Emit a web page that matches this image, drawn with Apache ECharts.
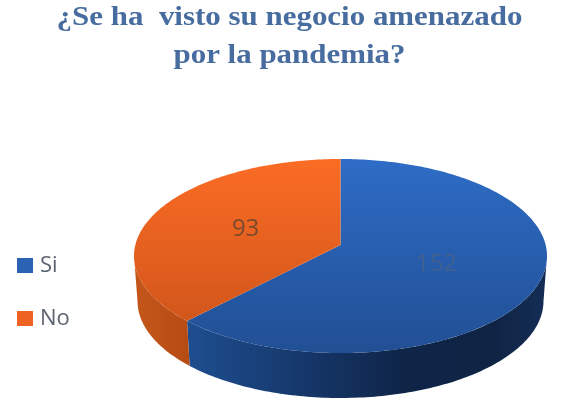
<!DOCTYPE html>
<html><head><meta charset="utf-8">
<style>html,body{margin:0;padding:0;background:#fff}#c{width:573px;height:400px;filter:blur(0.5px)}</style>
<script src="https://cdn.jsdelivr.net/npm/echarts@6/dist/echarts.min.js"></script>
</head><body><div id="c"></div>
<script>
const titleText = '¿Se ha  visto su negocio amenazado\npor la pandemia?';
const categories = ['Si', 'No'];
const values = [152, 93];
const legendColors = ['#2a62b4', '#ee6322'];

const G = echarts.graphic;
const total = values.reduce((a, b) => a + b, 0);
const topFace = {cx: 340.5, cy: 256, rx: 206.5, ry: 97};
const bottomFace = {cx: 340.5, cy: 301, rx: 203, ry: 97};
const persp = -0.113;
const fills = [
  new G.LinearGradient(0, 0, 0, 1, [{offset: 0, color: '#2e6cc6'}, {offset: 1, color: '#214f94'}]),
  new G.LinearGradient(0, 0, 0, 1, [{offset: 0, color: '#fb6c24'}, {offset: 1, color: '#d2561b'}])
];
const walls = [
  new G.LinearGradient(0, 0, 1, 0, [
    {offset: 0, color: '#1e4e90'}, {offset: 0.3, color: '#16396d'},
    {offset: 0.6, color: '#0f2548'}, {offset: 0.85, color: '#0f2444'}, {offset: 1, color: '#152d56'}]),
  new G.LinearGradient(0, 0, 1, 0, [{offset: 0, color: '#c4561a'}, {offset: 1, color: '#b54c14'}])
];
const labelColors = ['#40618f', '#7a4a2e'];

function project(deg, r, e) {
  const a = deg * Math.PI / 180, u = r * Math.sin(a), v = -r * Math.cos(a);
  const d = 1 + persp * v;
  return [e.cx + e.rx * u * Math.sqrt(1 - persp * persp) / d, e.cy + e.ry * (v + persp) / d];
}
function startOf(i) { return values.slice(0, i).reduce((a, b) => a + b, 0) / total * 360; }
function arc(from, to, e) {
  const n = Math.max(2, Math.ceil(Math.abs(to - from))), pts = [];
  for (let k = 0; k <= n; k++) pts.push(project(from + (to - from) * k / n, 1, e));
  return pts;
}
const visFrom = Math.acos(persp) * 180 / Math.PI, visTo = 360 - visFrom;

function renderSlice(i) {
  return function (params, api) {
    const s = startOf(i), e = s + api.value(0) / total * 360, children = [];
    const a = Math.max(s, visFrom), b = Math.min(e, visTo);
    if (b > a) children.push({type: 'polygon',
      shape: {points: arc(a, b, topFace).concat(arc(b, a, bottomFace))}, style: {fill: walls[i]}});
    children.push({type: 'polygon',
      shape: {points: [project(0, 0, topFace)].concat(arc(s, e, topFace))}, style: {fill: fills[i]}});
    const m = project((s + e) / 2, 0.5, topFace);
    children.push({type: 'text', style: {text: String(api.value(0)), x: m[0] - 1.5, y: m[1] + 1.5, fill: labelColors[i],
      font: '24px "Open Sans"', textAlign: 'center', textVerticalAlign: 'middle'}});
    return {type: 'group', children};
  };
}

const chart = echarts.init(document.getElementById('c'), null, {renderer: 'canvas'});
chart.setOption({
  animation: false,
  graphic: [{type: 'text', x: 289.5, y: -1, scaleX: 1.125, style: {text: titleText, fill: '#476c9f',
    font: 'bold 27.5px "Liberation Serif"', lineHeight: 38, textAlign: 'center', textVerticalAlign: 'top'}}],
  legend: {left: 17, top: 254.5, padding: 0, orient: 'vertical', itemWidth: 16, itemHeight: 15, itemGap: 31,
    icon: 'rect', data: categories, textStyle: {fontFamily: '"Open Sans"', fontSize: 22, color: '#5c6470', padding: [0, 0, 0, 2]}},
  series: categories.map((name, i) => ({
    type: 'custom', name, coordinateSystem: 'none', z: 2,
    itemStyle: {color: legendColors[i]}, data: [[values[i]]], renderItem: renderSlice(i)
  }))
});
</script></body></html>
